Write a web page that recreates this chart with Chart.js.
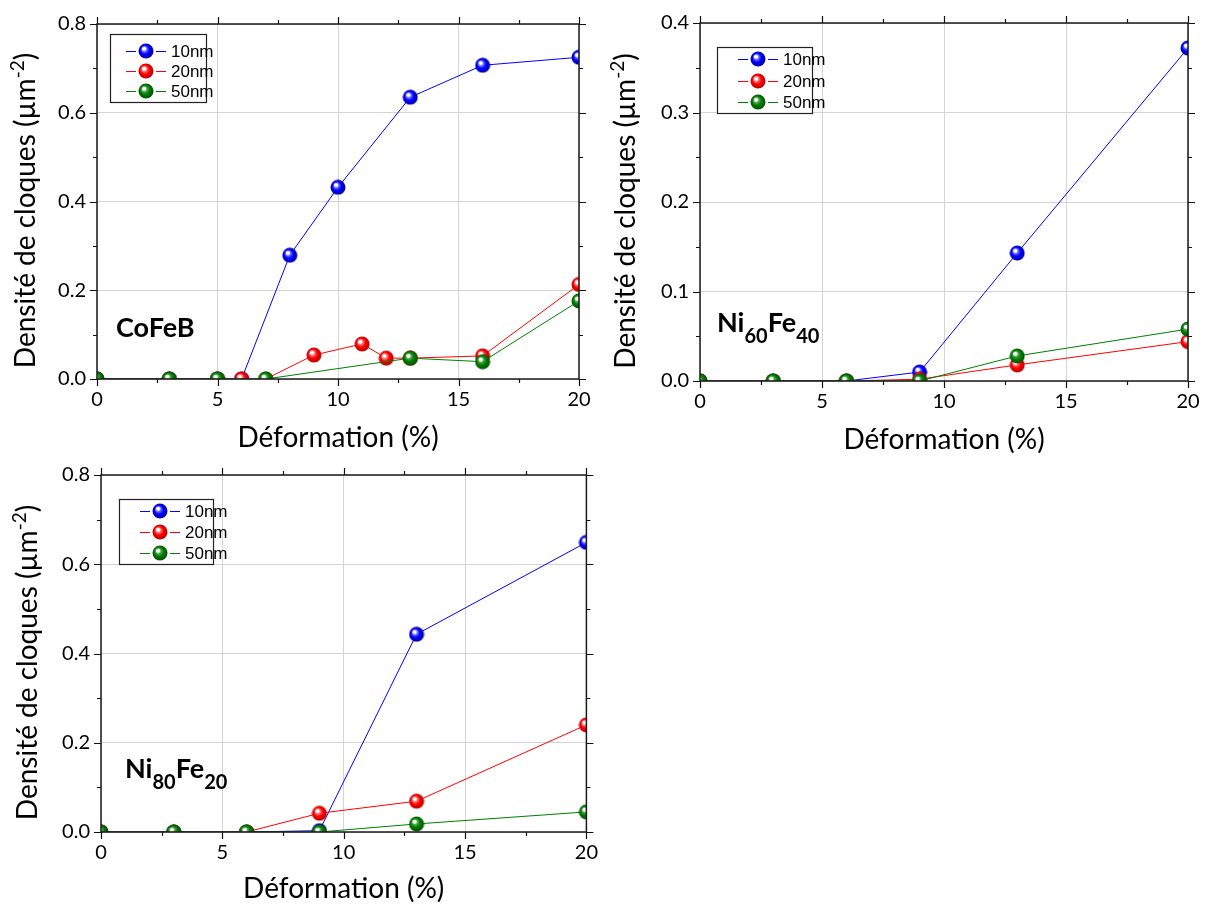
<!DOCTYPE html>
<html>
<head>
<meta charset="utf-8">
<title>Densité de cloques</title>
<script src="https://cdn.jsdelivr.net/npm/chart.js@4.4.1/dist/chart.umd.min.js"></script>
<style>
  body { margin: 0; background: #fff; width: 1207px; height: 907px; position: relative; overflow: hidden; }
  .panel { position: absolute; }
  #p1 { left: 0; top: 0; width: 600px; height: 460px; }
  #p2 { left: 600px; top: 0; width: 607px; height: 460px; }
  #p3 { left: 0; top: 450px; width: 600px; height: 457px; }
</style>
</head>
<body>
<div class="panel" id="p1"><canvas id="chartCoFeB"></canvas></div>
<div class="panel" id="p2"><canvas id="chartNi60"></canvas></div>
<div class="panel" id="p3"><canvas id="chartNi80"></canvas></div>
<script>
const seriesLabels = ["10nm", "20nm", "50nm"];
const seriesColors = ["#0000ff", "#ff0000", "#008000"];

// CoFeB
const cofebX10 = [0, 3, 5, 6, 8, 10, 13, 16, 20];
const cofebY10 = [0, 0, 0, 0, 0.279, 0.432, 0.635, 0.707, 0.725];
const cofebX20 = [0, 3, 5, 6, 7, 9, 11, 12, 13, 16, 20];
const cofebY20 = [0, 0, 0, 0, 0, 0.054, 0.079, 0.047, 0.047, 0.052, 0.213];
const cofebX50 = [0, 3, 5, 7, 13, 16, 20];
const cofebY50 = [0, 0, 0, 0, 0.047, 0.039, 0.176];

// Ni60Fe40
const ni60X = [0, 3, 6, 9, 13, 20];
const ni60Y10 = [0, 0, 0, 0.010, 0.143, 0.372];
const ni60Y20 = [0, 0, 0, 0.002, 0.018, 0.044];
const ni60Y50 = [0, 0, 0, 0, 0.028, 0.058];

// Ni80Fe20
const ni80X = [0, 3, 6, 9, 13, 20];
const ni80Y10 = [0, 0, 0, 0.003, 0.443, 0.649];
const ni80Y20 = [0, 0, 0, 0.042, 0.069, 0.240];
const ni80Y50 = [0, 0, 0, 0, 0.018, 0.045];

const xTitle = "Déformation (%)";
const yTitleParts = [{ t: "Densité de cloques (µm" }, { t: "-2", sup: true }, { t: ")" }];

const titleFont = "Lato, 'Open Sans', sans-serif";
const legendFont = "'Liberation Sans', Arial, sans-serif";

function makeBall(base, light, dark) {
  const c = document.createElement("canvas");
  c.width = 16;
  c.height = 16;
  const g = c.getContext("2d");
  const grad = g.createRadialGradient(5.6, 5.2, 0.3, 8, 8, 8);
  grad.addColorStop(0, "#ffffff");
  grad.addColorStop(0.16, "#ffffff");
  grad.addColorStop(0.3, light);
  grad.addColorStop(0.55, base);
  grad.addColorStop(1, dark);
  g.fillStyle = grad;
  g.beginPath();
  g.arc(8, 8, 7.5, 0, Math.PI * 2);
  g.fill();
  return c;
}

const balls = [
  makeBall("#0000ff", "#6a6aff", "#00009a"),
  makeBall("#ff0000", "#ff7070", "#b00000"),
  makeBall("#008000", "#55a855", "#004c00")
];

function drawRich(ctx, parts, x, y, size, subSize, bold) {
  const w = bold ? "bold " : "";
  let total = 0;
  parts.forEach((p) => {
    ctx.font = w + (p.sup || p.sub ? subSize : size) + "px " + titleFont;
    p.w = ctx.measureText(p.t).width;
    total += p.w;
  });
  let cx = x;
  parts.forEach((p) => {
    ctx.font = w + (p.sup || p.sub ? subSize : size) + "px " + titleFont;
    const dy = p.sup ? -11 : p.sub ? 11 : 0;
    ctx.fillText(p.t, cx, y + dy);
    cx += p.w;
  });
  return total;
}

function measureRich(ctx, parts, size, subSize) {
  let total = 0;
  parts.forEach((p) => {
    ctx.font = (p.sup || p.sub ? subSize : size) + "px " + titleFont;
    total += ctx.measureText(p.t).width;
  });
  return total;
}

const decorPlugin = {
  id: "decor",
  afterDraw(chart, args, opts) {
    const ctx = chart.ctx;
    const a = chart.chartArea;
    const xs = chart.scales.x;
    const ys = chart.scales.y;
    ctx.save();

    // tick marks on all four sides (major + minor)
    ctx.strokeStyle = "#111";
    ctx.lineWidth = 1.2;
    const xv = xs.ticks.map((t) => t.value);
    const yv = ys.ticks.map((t) => t.value);
    const marks = (vals) => {
      const out = [];
      vals.forEach((v, i) => {
        out.push([v, 7]);
        if (i < vals.length - 1) out.push([(v + vals[i + 1]) / 2, 4]);
      });
      return out;
    };
    ctx.beginPath();
    marks(xv).forEach(([v, len]) => {
      const px = Math.round(xs.getPixelForValue(v)) + 0.5;
      ctx.moveTo(px, a.bottom);
      ctx.lineTo(px, a.bottom + len);
      ctx.moveTo(px, a.top);
      ctx.lineTo(px, a.top - len);
    });
    marks(yv).forEach(([v, len]) => {
      const py = Math.round(ys.getPixelForValue(v)) + 0.5;
      ctx.moveTo(a.left, py);
      ctx.lineTo(a.left - len, py);
      ctx.moveTo(a.right, py);
      ctx.lineTo(a.right + len, py);
    });
    ctx.stroke();

    // frame
    ctx.lineWidth = 1.5;
    ctx.strokeStyle = "#1a1a1a";
    ctx.strokeRect(a.left, a.top, a.right - a.left, a.bottom - a.top);

    // axis titles
    ctx.fillStyle = "#000";
    ctx.textBaseline = "alphabetic";
    ctx.textAlign = "left";
    ctx.font = "28px " + titleFont;
    const xw = ctx.measureText(xTitle).width;
    ctx.fillText(xTitle, (a.left + a.right) / 2 - xw / 2, a.bottom + opts.xTitleDy);

    ctx.save();
    ctx.translate(a.left - opts.yTitleDx, (a.top + a.bottom) / 2 + 9);
    ctx.rotate(-Math.PI / 2);
    const yw = measureRich(ctx, yTitleParts, 28, 19);
    drawRich(ctx, yTitleParts, -yw / 2, 0, 28, 19, false);
    ctx.restore();

    // material label
    drawRich(ctx, opts.material, a.left + opts.matDx, a.bottom - opts.matDy, 27, 20, true);

    // legend
    const lg = opts.legend;
    const bx = a.left + lg.dx;
    const by = a.top + lg.dy;
    ctx.fillStyle = "#fff";
    ctx.fillRect(bx, by, lg.w, lg.h);
    ctx.lineWidth = 1.2;
    ctx.strokeStyle = "#222";
    ctx.strokeRect(bx + 0.5, by + 0.5, lg.w, lg.h);
    ctx.font = "17px " + legendFont;
    ctx.textBaseline = "middle";
    chart.data.datasets.forEach((ds, i) => {
      const ry = by + lg.rows[i];
      const cxb = bx + lg.ball;
      ctx.strokeStyle = ds.borderColor;
      ctx.lineWidth = 1;
      ctx.beginPath();
      ctx.moveTo(bx + lg.ball - 20, ry + 0.5);
      ctx.lineTo(cxb - 10, ry + 0.5);
      ctx.moveTo(cxb + 10, ry + 0.5);
      ctx.lineTo(bx + lg.ball + 20, ry + 0.5);
      ctx.stroke();
      ctx.drawImage(balls[i], cxb - 8, ry - 8);
      ctx.fillStyle = "#000";
      ctx.fillText(ds.label, bx + lg.text, ry + 1);
    });
    ctx.restore();
  }
};

function makeDatasets(xLists, yLists) {
  return [0, 1, 2].map((i) => ({
    label: seriesLabels[i],
    data: xLists[i].map((x, k) => ({ x: x, y: yLists[i][k] })),
    borderColor: seriesColors[i],
    backgroundColor: seriesColors[i],
    borderWidth: 1,
    tension: 0,
    fill: false,
    pointStyle: balls[i],
    pointRadius: 8,
    order: 2 - i
  }));
}

function buildChart(canvasId, xLists, yLists, cfg) {
  const gridColor = "#d4d4d4";
  return new Chart(document.getElementById(canvasId), {
    type: "line",
    data: { datasets: makeDatasets(xLists, yLists) },
    options: {
      responsive: true,
      maintainAspectRatio: false,
      animation: false,
      events: [],
      layout: { padding: { left: 0, top: cfg.top, right: cfg.right, bottom: 0 } },
      plugins: {
        legend: { display: false },
        tooltip: { enabled: false },
        decor: cfg
      },
      scales: {
        x: {
          type: "linear",
          min: 0,
          max: 20,
          ticks: { stepSize: 5, color: "#000", padding: 2, font: { family: titleFont, size: 20 } },
          grid: { color: gridColor, lineWidth: 1, drawTicks: true, tickLength: 7, tickColor: "transparent" },
          border: { display: false },
          afterFit(s) { s.height = cfg.xh; }
        },
        y: {
          min: 0,
          max: cfg.ymax,
          ticks: {
            stepSize: cfg.ystep,
            color: "#000",
            padding: 4,
            font: { family: titleFont, size: 20 },
            callback: (v) => v.toFixed(1)
          },
          grid: { color: gridColor, lineWidth: 1, drawTicks: true, tickLength: 7, tickColor: "transparent" },
          border: { display: false },
          afterFit(s) { s.width = cfg.yw; }
        }
      }
    },
    plugins: [decorPlugin]
  });
}

buildChart("chartCoFeB", [cofebX10, cofebX20, cofebX50], [cofebY10, cofebY20, cofebY50], {
  top: 24, right: 21, yw: 97, xh: 81, ymax: 0.8, ystep: 0.2,
  xTitleDy: 68, yTitleDx: 62,
  matDx: 19, matDy: 42,
  material: [{ t: "CoFeB" }],
  legend: { dx: 13, dy: 10, w: 96, h: 68, rows: [17, 37, 57], ball: 36, text: 61 }
});

buildChart("chartNi60", [ni60X, ni60X, ni60X], [ni60Y10, ni60Y20, ni60Y50], {
  top: 23, right: 19, yw: 100, xh: 79, ymax: 0.4, ystep: 0.1,
  xTitleDy: 68, yTitleDx: 65,
  matDx: 17, matDy: 49,
  material: [{ t: "Ni" }, { t: "60", sub: true }, { t: "Fe" }, { t: "40", sub: true }],
  legend: { dx: 17, dy: 24, w: 95, h: 66, rows: [12, 34, 55], ball: 41, text: 66 }
});

buildChart("chartNi80", [ni80X, ni80X, ni80X], [ni80Y10, ni80Y20, ni80Y50], {
  top: 25, right: 12, yw: 101, xh: 75, ymax: 0.8, ystep: 0.2,
  xTitleDy: 66, yTitleDx: 64,
  matDx: 24, matDy: 54,
  material: [{ t: "Ni" }, { t: "80", sub: true }, { t: "Fe" }, { t: "20", sub: true }],
  legend: { dx: 18, dy: 24, w: 94, h: 65, rows: [12, 33, 54], ball: 41, text: 66 }
});
</script>
</body>
</html>
